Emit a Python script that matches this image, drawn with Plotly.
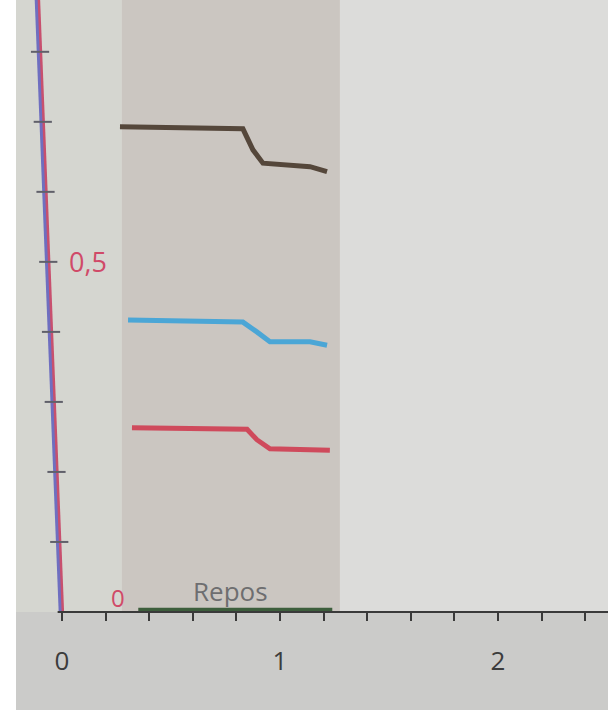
import plotly.graph_objects as go

# ---- data ----
brown_x = [0.266, 0.830, 0.876, 0.922, 1.138, 1.216]
brown_y = [0.693, 0.690, 0.660, 0.641, 0.636, 0.629]
blue_x = [0.303, 0.830, 0.894, 0.954, 1.138, 1.216]
blue_y = [0.417, 0.414, 0.400, 0.386, 0.386, 0.381]
red_x = [0.321, 0.849, 0.894, 0.954, 1.229]
red_y = [0.263, 0.261, 0.246, 0.233, 0.231]
repos_x = [0.35, 1.24]
repos_label = "Repos"
band_x = [0.275, 1.275]
x_tickvals = [0, 0.2, 0.4, 0.6, 0.8, 1.0, 1.2, 1.4, 1.6, 1.8, 2.0, 2.2, 2.4]
x_ticktext = ["0", "", "", "", "", "1", "", "", "", "", "2", "", ""]
y_ticks = [0.1, 0.2, 0.3, 0.4, 0.5, 0.6, 0.7, 0.8]
axis_top = (-0.11, 0.874)
axis_bottom = (0.0, 0.0)

X0, X1 = -0.211, 2.505
Y0, Y1 = -0.14, 0.874

fig = go.Figure()

# background regions (photo look)
fig.add_shape(type="rect", xref="x", yref="y", x0=X0, x1=band_x[0], y0=0, y1=Y1,
              fillcolor="#d5d6d0", line_width=0, layer="below")
fig.add_shape(type="rect", xref="x", yref="y", x0=band_x[0], x1=band_x[1], y0=0, y1=Y1,
              fillcolor="#cbc6c1", line_width=0, layer="below")
fig.add_shape(type="rect", xref="x", yref="y", x0=band_x[1], x1=X1, y0=0, y1=Y1,
              fillcolor="#dcdcda", line_width=0, layer="below")
fig.add_shape(type="rect", xref="x", yref="y", x0=X0, x1=X1, y0=Y0, y1=0,
              fillcolor="#cbcbc9", line_width=0, layer="below")

# slanted y axis (blue + red)
fig.add_trace(go.Scatter(x=[axis_top[0] - 0.006, axis_bottom[0] - 0.006], y=[axis_top[1], axis_bottom[1]],
                         mode="lines", line=dict(color="#6f6fc0", width=4), hoverinfo="skip"))
fig.add_trace(go.Scatter(x=[axis_top[0] + 0.004, axis_bottom[0] + 0.004], y=[axis_top[1], axis_bottom[1]],
                         mode="lines", line=dict(color="#c8506e", width=2.5), hoverinfo="skip"))
# y ticks along slanted axis
tick_x = [axis_bottom[0] + (axis_top[0] - axis_bottom[0]) * (v / axis_top[1]) for v in y_ticks]
fig.add_trace(go.Scatter(x=tick_x, y=y_ticks, mode="markers",
                         marker=dict(symbol="line-ew-open", size=13, color="#60606a",
                                     line=dict(color="#60606a", width=2)),
                         hoverinfo="skip"))

# series
fig.add_trace(go.Scatter(x=brown_x, y=brown_y, mode="lines", line=dict(color="#55473b", width=5)))
fig.add_trace(go.Scatter(x=blue_x, y=blue_y, mode="lines", line=dict(color="#4ba6d6", width=5)))
fig.add_trace(go.Scatter(x=red_x, y=red_y, mode="lines", line=dict(color="#cf4a5c", width=5)))
fig.add_trace(go.Scatter(x=repos_x, y=[0.003, 0.003], mode="lines", line=dict(color="#3d5e3c", width=4)))

fig.add_annotation(x=(repos_x[0] + repos_x[1]) / 2 - 0.02, y=0.002, text=repos_label, showarrow=False,
                   yanchor="bottom", font=dict(size=26, color="#6e6e70", family="Open Sans"))
fig.add_annotation(x=0.12, y=0.5, text="0,5", showarrow=False,
                   font=dict(size=27, color="#d04a68", family="Open Sans"))
fig.add_annotation(x=0.257, y=0.021, text="0", showarrow=False,
                   font=dict(size=24, color="#d04a68", family="Open Sans"))

fig.update_layout(
    width=608, height=710, showlegend=False,
    margin=dict(l=16, r=0, t=0, b=0, autoexpand=False),
    paper_bgcolor="white", plot_bgcolor="#d5d6d0",
    xaxis=dict(range=[X0, X1], tickvals=x_tickvals, ticktext=x_ticktext,
               showgrid=False, zeroline=False, showline=False, automargin=False,
               ticks="outside", ticklen=8, tickwidth=2, tickcolor="#3a3a3a",
               anchor="free", position=(0 - Y0) / (Y1 - Y0),
               ticklabelstandoff=18,
               tickfont=dict(size=26, color="#3c3c3c", family="Open Sans")),
    yaxis=dict(range=[Y0, Y1], showgrid=False, zeroline=False, showticklabels=False,
               ticks="", automargin=False),
)
# x axis baseline
fig.add_shape(type="line", xref="x", yref="y", x0=-0.02, x1=X1, y0=0, y1=0,
              line=dict(color="#3a3a3a", width=2))

fig.write_html("out.html", config={"displayModeBar": False},
               post_script="document.body.style.margin='0';document.body.style.overflow='hidden';")
